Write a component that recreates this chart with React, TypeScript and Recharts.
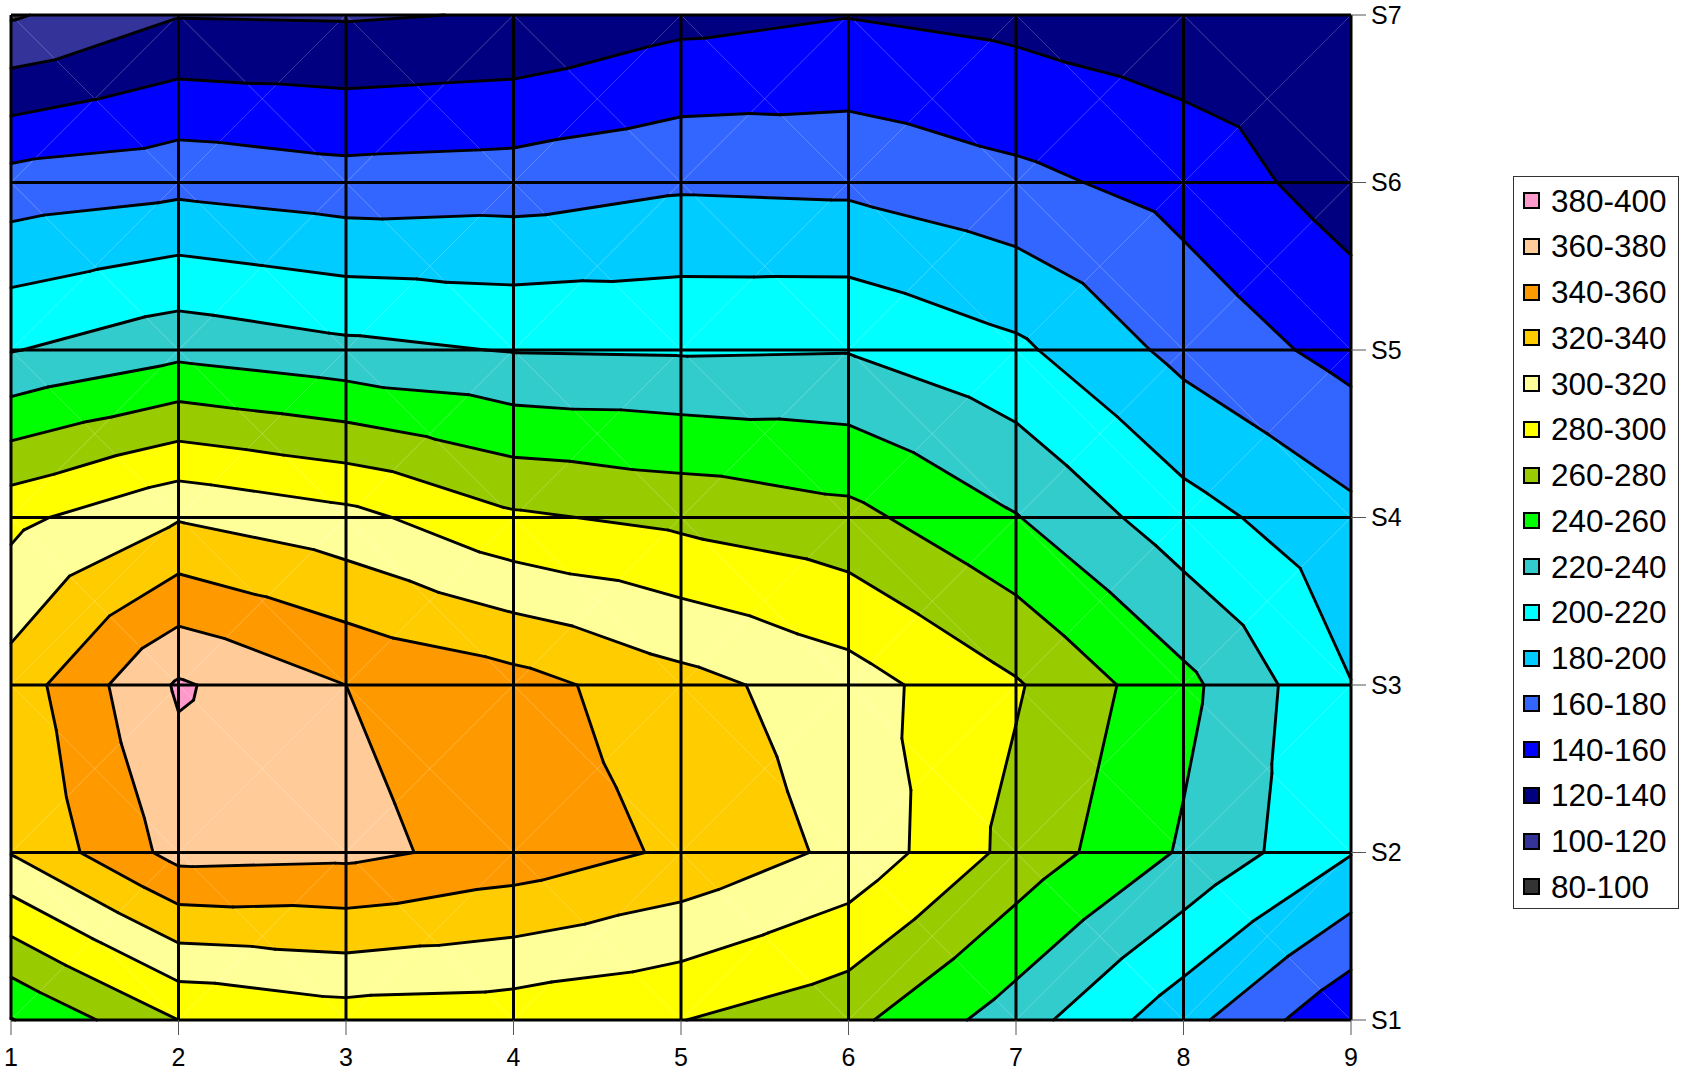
import React from 'react';
import { ComposedChart, XAxis, YAxis, Scatter, ReferenceArea, ReferenceLine } from 'recharts';

// categories (x) and series (rows, bottom to top)
const xValues = [1, 2, 3, 4, 5, 6, 7, 8, 9];
const seriesNames = ['S1', 'S2', 'S3', 'S4', 'S5', 'S6', 'S7'];

// series values, one per x category
const s1 = [239, 280, 290, 288, 280.5, 265.5, 229.5, 187, 142.5];
const s2 = [321, 367, 365, 352.7, 336.5, 315, 273.5, 237.5, 201];
const s3 = [328.5, 382.5, 360, 348, 327, 309, 282, 245.5, 200.5];
const s4 = [294.5, 318.5, 306.4, 283, 275, 266, 241, 208, 185];
const s5 = [219, 234, 225, 219, 218, 219, 204, 174, 153];
const s6 = [168, 174, 168, 170, 177, 175.4, 165, 152.6, 130];
const s7 = [97.6, 119, 118, 121.4, 133.7, 139.3, 134.2, 126.8, 125];

// contour bands
const bandStarts = [80, 100, 120, 140, 160, 180, 200, 220, 240, 260, 280, 300, 320, 340, 360, 380];
const bandStep = 20;
const bandColors = [
  '#333333', '#333399', '#000080', '#0000FF', '#3366FF', '#00CCFF', '#00FFFF', '#33CCCC',
  '#00FF00', '#99CC00', '#FFFF00', '#FFFF99', '#FFCC00', '#FF9900', '#FFCC99', '#FF99CC',
];

const grid = [s1, s2, s3, s4, s5, s6, s7];
const seriesPos = seriesNames.map((_, k) => k + 1);
const FONT = '"Liberation Sans", Arial, sans-serif';

type P = { x: number; y: number; v: number };

function clip(poly: P[], t: number, keepAbove: boolean): P[] {
  const out: P[] = [];
  for (let i = 0; i < poly.length; i++) {
    const a = poly[i];
    const b = poly[(i + 1) % poly.length];
    const ina = keepAbove ? a.v >= t : a.v <= t;
    const inb = keepAbove ? b.v >= t : b.v <= t;
    if (ina) out.push(a);
    if (ina !== inb) {
      const r = (t - a.v) / (b.v - a.v);
      out.push({ x: a.x + r * (b.x - a.x), y: a.y + r * (b.y - a.y), v: t });
    }
  }
  return out;
}

function cellTriangles(props: any, i: number, j: number): P[][] {
  const left = Math.min(props.x, props.x + props.width);
  const top = Math.min(props.y, props.y + props.height);
  const w = Math.abs(props.width);
  const h = Math.abs(props.height);
  const vBL = grid[j][i];
  const vBR = grid[j][i + 1];
  const vTL = grid[j + 1][i];
  const vTR = grid[j + 1][i + 1];
  const BL = { x: left, y: top + h, v: vBL };
  const BR = { x: left + w, y: top + h, v: vBR };
  const TL = { x: left, y: top, v: vTL };
  const TR = { x: left + w, y: top, v: vTR };
  const C = { x: left + w / 2, y: top + h / 2, v: (vBL + vBR + vTL + vTR) / 4 };
  return [
    [BL, BR, C],
    [BR, TR, C],
    [TR, TL, C],
    [TL, BL, C],
  ];
}

const makeFillShape = (i: number, j: number) => (props: any) => {
  const tris = cellTriangles(props, i, j);
  const polys: React.ReactNode[] = [];
  tris.forEach((tri, ti) => {
    bandStarts.forEach((lo, k) => {
      const hi = lo + bandStep;
      const p = clip(clip(tri, lo, true), hi, false);
      if (p.length >= 3) {
        polys.push(
          <polygon
            key={`${ti}-${k}`}
            points={p.map((q) => `${q.x},${q.y}`).join(' ')}
            fill={bandColors[k]}
            stroke={bandColors[k]}
            strokeWidth={0.8}
            strokeLinejoin="round"
          />
        );
      }
    });
  });
  return <g>{polys}</g>;
};

const makeLineShape = (i: number, j: number) => (props: any) => {
  const tris = cellTriangles(props, i, j);
  const C = tris[0][2];
  const els: React.ReactNode[] = [];
  tris.forEach((tri, ti) => {
    els.push(
      <line key={`d${ti}`} x1={tri[0].x} y1={tri[0].y} x2={C.x} y2={C.y} stroke="#ffffff" strokeOpacity={0.3} strokeWidth={0.7} />
    );
  });
  tris.forEach((tri, ti) => {
    bandStarts.slice(1).forEach((t, k) => {
      const pts: { x: number; y: number }[] = [];
      for (let e = 0; e < 3; e++) {
        const a = tri[e];
        const b = tri[(e + 1) % 3];
        if ((a.v < t) !== (b.v < t)) {
          const r = (t - a.v) / (b.v - a.v);
          pts.push({ x: a.x + r * (b.x - a.x), y: a.y + r * (b.y - a.y) });
        }
      }
      if (pts.length === 2) {
        els.push(
          <line
            key={`c${ti}-${k}`}
            x1={pts[0].x}
            y1={pts[0].y}
            x2={pts[1].x}
            y2={pts[1].y}
            stroke="#000"
            strokeWidth={2.9}
            strokeLinecap="round"
          />
        );
      }
    });
  });
  return <g>{els}</g>;
};

const cells: { i: number; j: number }[] = [];
for (let j = 0; j < seriesNames.length - 1; j++) {
  for (let i = 0; i < xValues.length - 1; i++) cells.push({ i, j });
}

const nodes = grid.flatMap((row, j) => row.map((v, i) => ({ x: xValues[i], y: seriesPos[j], v })));

const W = 1681;
const H = 1073;

export default function App() {
  return (
    <div
      style={{
        position: 'fixed',
        left: 0,
        top: 0,
        width: W,
        height: H,
        overflow: 'hidden',
        background: '#fff',
        fontFamily: FONT,
      }}
    >
      <ComposedChart width={W} height={H} margin={{ top: 15, right: 250, bottom: 3, left: 11 }}>
        <XAxis
          type="number"
          dataKey="x"
          domain={[1, 9]}
          ticks={xValues}
          interval={0}
          allowDataOverflow
          axisLine={false}
          tickLine={{ stroke: '#555' }}
          tickSize={15}
          tickMargin={13}
          height={50}
          tick={{ fontSize: 25, fill: '#000', fontFamily: FONT }}
        />
        <YAxis
          type="number"
          dataKey="y"
          orientation="right"
          domain={[1, 7]}
          ticks={seriesPos}
          interval={0}
          allowDataOverflow
          axisLine={false}
          tickLine={{ stroke: '#555' }}
          tickSize={15}
          tickMargin={5}
          width={80}
          tickFormatter={(v: number) => seriesNames[v - 1]}
          tick={{ fontSize: 25, fill: '#000', fontFamily: FONT }}
        />
        {cells.map(({ i, j }) => (
          <ReferenceArea
            key={`f${i}-${j}`}
            x1={xValues[i]}
            x2={xValues[i + 1]}
            y1={seriesPos[j]}
            y2={seriesPos[j + 1]}
            ifOverflow="visible"
            shape={makeFillShape(i, j)}
          />
        ))}
        {cells.map(({ i, j }) => (
          <ReferenceArea
            key={`l${i}-${j}`}
            x1={xValues[i]}
            x2={xValues[i + 1]}
            y1={seriesPos[j]}
            y2={seriesPos[j + 1]}
            ifOverflow="visible"
            shape={makeLineShape(i, j)}
          />
        ))}
        {xValues.map((v) => (
          <ReferenceLine key={`gx${v}`} x={v} stroke="#000" strokeWidth={3} ifOverflow="visible" />
        ))}
        {seriesPos.map((v) => (
          <ReferenceLine key={`gy${v}`} y={v} stroke="#000" strokeWidth={3} ifOverflow="visible" />
        ))}
        <Scatter data={nodes} dataKey="y" isAnimationActive={false} shape={() => <g />} />
      </ComposedChart>
      <div
        style={{
          position: 'absolute',
          left: 1513,
          top: 176,
          width: 166,
          height: 733,
          border: '1px solid #333',
          boxSizing: 'border-box',
          background: '#fff',
        }}
      >
        {bandStarts
          .map((lo, k) => ({ lo, k }))
          .reverse()
          .map(({ lo, k }, r) => (
            <div
              key={lo}
              style={{
                position: 'absolute',
                left: 9,
                top: 23.5 + r * 45.75 - 20,
                height: 40,
                display: 'flex',
                alignItems: 'center',
                whiteSpace: 'nowrap',
              }}
            >
              <div
                style={{
                  width: 17,
                  height: 17,
                  background: bandColors[k],
                  border: '2px solid #000',
                  boxSizing: 'border-box',
                  marginRight: 11,
                }}
              />
              <span style={{ fontSize: 31.5, color: '#000', fontFamily: FONT, lineHeight: '40px' }}>
                {`${lo}-${lo + bandStep}`}
              </span>
            </div>
          ))}
      </div>
    </div>
  );
}
